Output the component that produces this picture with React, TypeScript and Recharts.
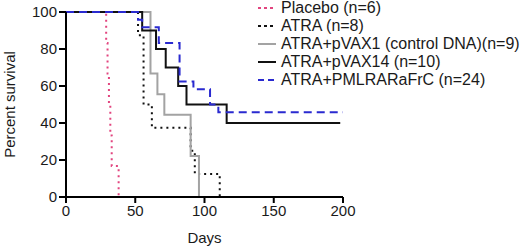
import { LineChart, Line, XAxis, YAxis, Legend } from "recharts";

// Kaplan-Meier step points (day, percent survival)
const placeboDays = [0, 29, 30, 31, 32, 33, 38];
const placeboSurv = [100, 83.3, 66.7, 50, 33.3, 16.7, 0];

const atraDays = [0, 52, 56, 62, 90, 93, 111];
const atraSurv = [100, 87.5, 50, 37.5, 25, 12.5, 0];

const pvax1Days = [0, 61, 66, 71, 90, 96];
const pvax1Surv = [100, 66.7, 55.6, 44.4, 22.2, 0];

const pvax14Days = [0, 55, 65, 72, 81, 87, 116, 198];
const pvax14Surv = [100, 90, 80, 70, 60, 50, 40, 40];

const pmlDays = [0, 52, 55, 67, 82, 92, 104, 110, 200];
const pmlSurv = [100, 95.8, 91.7, 83.3, 62.5, 58.3, 50, 45.8, 45.8];

const xTicks = [0, 50, 100, 150, 200];
const yTicks = [0, 20, 40, 60, 80, 100];

const font = "'Liberation Sans', Arial, Helvetica, sans-serif";
const ink = "#1a1a1a";

const toPoints = (days: number[], surv: number[]) => days.map((d, i) => ({ x: d, y: surv[i] }));

const series = [
  { name: "Placebo (n=6)", data: toPoints(placeboDays, placeboSurv), color: "#e2457f", dash: "2 4", width: 2 },
  { name: "ATRA (n=8)", data: toPoints(atraDays, atraSurv), color: "#111111", dash: "2 4", width: 2 },
  { name: "ATRA+pVAX1 (control DNA)(n=9)", data: toPoints(pvax1Days, pvax1Surv), color: "#a3a3a3", dash: undefined, width: 2 },
  { name: "ATRA+pVAX14 (n=10)", data: toPoints(pvax14Days, pvax14Surv), color: "#111111", dash: undefined, width: 2 },
  { name: "ATRA+PMLRARaFrC (n=24)", data: toPoints(pmlDays, pmlSurv), color: "#2a2ad0", dash: "8 5", width: 2 },
];

const legendDash = ["3 3", "3 3", undefined, undefined, "6 4"];

const KMLegend = () => (
  <div style={{ fontFamily: font, fontSize: 16, color: ink }}>
    {series.map((s, i) => (
      <div key={s.name} style={{ display: "flex", alignItems: "center", height: 18, whiteSpace: "nowrap" }}>
        <svg width={26} height={18}>
          <line x1={3} y1={9} x2={21} y2={9} stroke={s.color} strokeWidth={2} strokeDasharray={legendDash[i]} />
        </svg>
        <span>{s.name}</span>
      </div>
    ))}
  </div>
);

export default function App() {
  return (
    <div style={{ position: "absolute", left: 0, top: 0, background: "#fff" }}>
      <LineChart width={520} height={249} margin={{ top: 12, right: 177, bottom: 0, left: 0 }}>
        <XAxis
          type="number"
          dataKey="x"
          domain={[0, 200]}
          ticks={xTicks}
          height={52}
          tickSize={6}
          tickMargin={2}
          axisLine={{ stroke: "#000", strokeWidth: 2 }}
          tickLine={{ stroke: "#000", strokeWidth: 2 }}
          tick={{ fill: ink, fontSize: 15, fontFamily: font }}
          label={{ value: "Days", position: "insideBottom", offset: 6, fill: ink, fontSize: 15, fontFamily: font }}
          allowDuplicatedCategory={false}
        />
        <YAxis
          type="number"
          dataKey="y"
          domain={[0, 100]}
          ticks={yTicks}
          width={66}
          tickSize={7}
          tickMargin={2}
          axisLine={{ stroke: "#000", strokeWidth: 2 }}
          tickLine={{ stroke: "#000", strokeWidth: 2 }}
          tick={{ fill: ink, fontSize: 15, fontFamily: font }}
          label={{
            value: "Percent survival",
            angle: -90,
            position: "insideLeft",
            offset: 10,
            fill: ink,
            fontSize: 15,
            fontFamily: font,
            style: { textAnchor: "middle" },
          }}
        />
        {series.map((s) => (
          <Line
            key={s.name}
            data={s.data}
            dataKey="y"
            name={s.name}
            type="stepAfter"
            stroke={s.color}
            strokeWidth={s.width}
            strokeDasharray={s.dash}
            dot={false}
            activeDot={false}
            isAnimationActive={false}
          />
        ))}
        <Legend
          layout="vertical"
          align="center"
          verticalAlign="middle"
          content={<KMLegend />}
          wrapperStyle={{ left: 255, top: -1, width: 265, height: 95 }}
        />
      </LineChart>
    </div>
  );
}
